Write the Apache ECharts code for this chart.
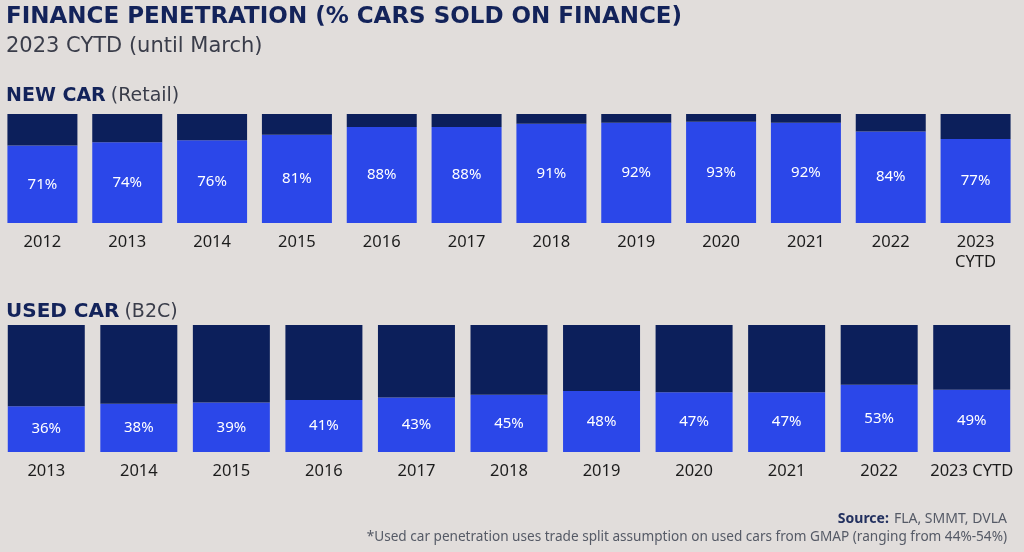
<!DOCTYPE html>
<html><head><meta charset="utf-8">
<script src="https://cdn.jsdelivr.net/npm/echarts@6/dist/echarts.min.js"></script>
<style>html,body{margin:0;padding:0;background:#e1dddb;}#c{width:1024px;height:552px;}</style>
</head><body><div id="c"></div>
<script>
const newYears = ['2012','2013','2014','2015','2016','2017','2018','2019','2020','2021','2022','2023\nCYTD'];
const newFinance = [71,74,76,81,88,88,91,92,93,92,84,77];
const newOther = [29,26,24,19,12,12,9,8,7,8,16,23];
const usedYears = ['2013','2014','2015','2016','2017','2018','2019','2020','2021','2022','2023 CYTD'];
const usedFinance = [36,38,39,41,43,45,48,47,47,53,49];
const usedOther = [64,62,61,59,57,55,52,53,53,47,51];

const BLUE = '#2b47e9', NAVY = '#0c1f5b', FONT = 'Noto Sans';
const chart = echarts.init(document.getElementById('c'));
const lbl = {show:true, position:'inside', color:'#ffffff', fontSize:15, fontFamily:FONT, formatter:'{c}%'};
chart.setOption({
  backgroundColor:'#e1dddb',
  animation:false,
  title:[
    {text:'FINANCE PENETRATION (% CARS SOLD ON FINANCE)', left:1, top:1,
     textStyle:{fontFamily:'DejaVu Sans', fontWeight:'bold', fontSize:23, color:'#13235a'}},
    {text:'2023 CYTD (until March)', left:1, top:31,
     textStyle:{fontFamily:'DejaVu Sans', fontWeight:'normal', fontSize:21, color:'#3a3d4a'}},
    {text:'{b|NEW CAR} {n|(Retail)}', left:1, top:82,
     textStyle:{rich:{b:{fontFamily:'DejaVu Sans', fontWeight:'bold', fontSize:19, color:'#13235a'},
                      n:{fontFamily:'DejaVu Sans', fontWeight:'normal', fontSize:19, color:'#3a3d4a'}}}},
    {text:'{b|USED CAR} {n|(B2C)}', left:1, top:297,
     textStyle:{rich:{b:{fontFamily:'DejaVu Sans', fontWeight:'bold', fontSize:20, color:'#13235a'},
                      n:{fontFamily:'DejaVu Sans', fontWeight:'normal', fontSize:19, color:'#3a3d4a'}}}},
    {text:'{b|Source:} {n|FLA, SMMT, DVLA}', right:12, top:505,
     textStyle:{rich:{b:{fontFamily:FONT, fontWeight:'bold', fontSize:14, color:'#22305f'},
                      n:{fontFamily:FONT, fontWeight:'normal', fontSize:14, color:'#555a66'}}}},
    {text:'*Used car penetration uses trade split assumption on used cars from GMAP (ranging from 44%-54%)', right:12, top:525,
     textStyle:{fontFamily:FONT, fontWeight:'normal', fontSize:13.6, color:'#555a66'}}
  ],
  grid:[
    {left:-2.5, width:1020.5, top:114, height:109},
    {left:-2.5, width:1020.5, top:325, height:127}
  ],
  xAxis:[
    {type:'category', gridIndex:0, data:newYears, axisLine:{show:false}, axisTick:{show:false},
     axisLabel:{color:'#1c1c1c', fontSize:16.5, fontFamily:FONT, margin:9, lineHeight:20, interval:0}},
    {type:'category', gridIndex:1, data:usedYears, axisLine:{show:false}, axisTick:{show:false},
     axisLabel:{color:'#1c1c1c', fontSize:16.5, fontFamily:FONT, margin:11, interval:0}}
  ],
  yAxis:[
    {type:'value', gridIndex:0, min:0, max:100, show:false},
    {type:'value', gridIndex:1, min:0, max:100, show:false}
  ],
  series:[
    {type:'bar', xAxisIndex:0, yAxisIndex:0, stack:'n', data:newFinance, barWidth:70, itemStyle:{color:BLUE}, label:lbl},
    {type:'bar', xAxisIndex:0, yAxisIndex:0, stack:'n', data:newOther, barWidth:70, itemStyle:{color:NAVY}},
    {type:'bar', xAxisIndex:1, yAxisIndex:1, stack:'u', data:usedFinance, barWidth:77, itemStyle:{color:BLUE}, label:lbl},
    {type:'bar', xAxisIndex:1, yAxisIndex:1, stack:'u', data:usedOther, barWidth:77, itemStyle:{color:NAVY}}
  ]
});
</script></body></html>
